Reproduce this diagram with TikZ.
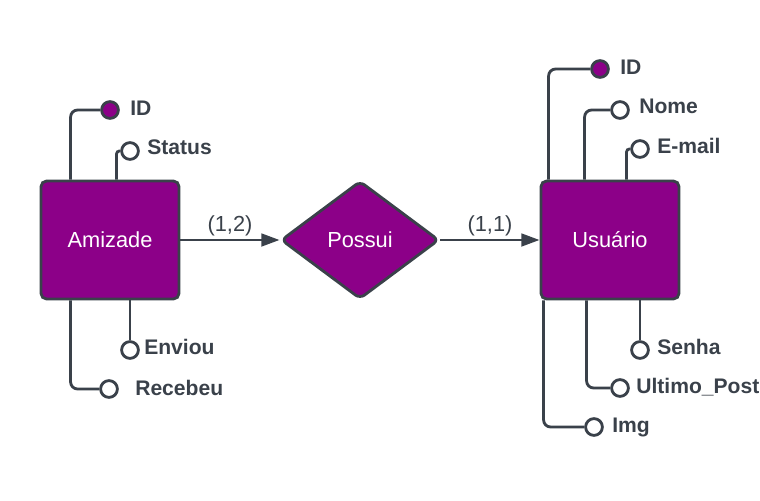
\documentclass[tikz,border=0pt]{standalone}
\usepackage{fontspec}
\setmainfont{Liberation Sans}
\usetikzlibrary{shapes.geometric, arrows.meta}
\definecolor{erpurple}{HTML}{8C0088}
\definecolor{erline}{HTML}{3A414A}

\begin{document}
\begin{tikzpicture}[
    x=0.025cm, y=-0.025cm,
    entity/.style={draw=erline, fill=erpurple, line width=2pt, rounded corners=4pt,
                   minimum width=3.45cm, minimum height=2.95cm, text=white,
                   font=\fontsize{15.5}{18}\selectfont},
    relation/.style={diamond, draw=erline, fill=erpurple, line width=2pt,
                     rounded corners=4pt, minimum width=3.95cm, minimum height=2.95cm,
                     text=white, font=\fontsize{15.5}{18}\selectfont},
    attr/.style={circle, draw=erline, line width=2pt, fill=white,
                 minimum size=0.42cm, inner sep=0pt},
    key/.style={attr, fill=erpurple},
    attrlabel/.style={anchor=west, inner sep=0pt, text=erline,
                      font=\bfseries\fontsize{15}{18}\selectfont},
    link/.style={draw=erline, line width=2pt, rounded corners=5pt},
    arrow/.style={-{Triangle[length=13pt, width=9pt]}, draw=erline, line width=2pt},
    card/.style={above, inner sep=1.5pt, text=erline, font=\fontsize{15.5}{18}\selectfont},
]
\path[use as bounding box, clip] (0,0) rectangle (760,500);

\node[entity] (ami) at (110,240) {Amizade};
\node[relation] (pos) at (360,240) {Possui};
\node[entity] (usu) at (610,240) {Usuário};

\draw[arrow] (ami) -- node[card] {(1,2)} (pos);
\draw[arrow] (pos) -- node[card] {(1,1)} (usu);

% Amizade attributes
\node[key] (amiId) at (110,110) {};
\node[attrlabel] (amiIdL) at (130,108) {ID};
\node[attr] (amiSt) at (130,151) {};
\node[attrlabel] (amiStL) at (147,147) {Status};
\node[attr] (amiEnv) at (130,350) {};
\node[attrlabel] (amiEnvL) at (144,347) {Enviou};
\node[attr] (amiRec) at (109,389) {};
\node[attrlabel] (amiRecL) at (135,388) {Recebeu};

\draw[link] (ami.north west) ++(31,0) |- (amiId);
\draw[link, rounded corners=2pt] (ami.north west) ++(77,0) |- (amiSt);
\draw[link] (amiEnv |- ami.south) -- (amiEnv);
\draw[link] (ami.south west) ++(31,0) |- (amiRec);

% Usuario attributes
\node[key] (usuId) at (600,69) {};
\node[attrlabel] (usuIdL) at (620,67) {ID};
\node[attr] (usuNome) at (620,110) {};
\node[attrlabel] (usuNomeL) at (639,106) {Nome};
\node[attr] (usuMail) at (640,149) {};
\node[attrlabel] (usuMailL) at (657,146) {E-mail};
\node[attr] (usuSenha) at (640,350) {};
\node[attrlabel] (usuSenhaL) at (657,347) {Senha};
\node[attr] (usuPost) at (620,388) {};
\node[attrlabel] (usuPostL) at (636,387) {Ultimo\_Post};
\node[attr] (usuImg) at (594,427) {};
\node[attrlabel] (usuImgL) at (612,427) {Img};

\draw[link] (usu.north west) ++(9,0) |- (usuId);
\draw[link] (usu.north west) ++(45,0) |- (usuNome);
\draw[link, rounded corners=2pt] (usu.north west) ++(87,0) |- (usuMail);
\draw[link] (usuSenha |- usu.south) -- (usuSenha);
\draw[link] (usu.south west) ++(47,0) |- (usuPost);
\draw[link] (usu.south west) ++(4,0) |- (usuImg);
\end{tikzpicture}
\end{document}
